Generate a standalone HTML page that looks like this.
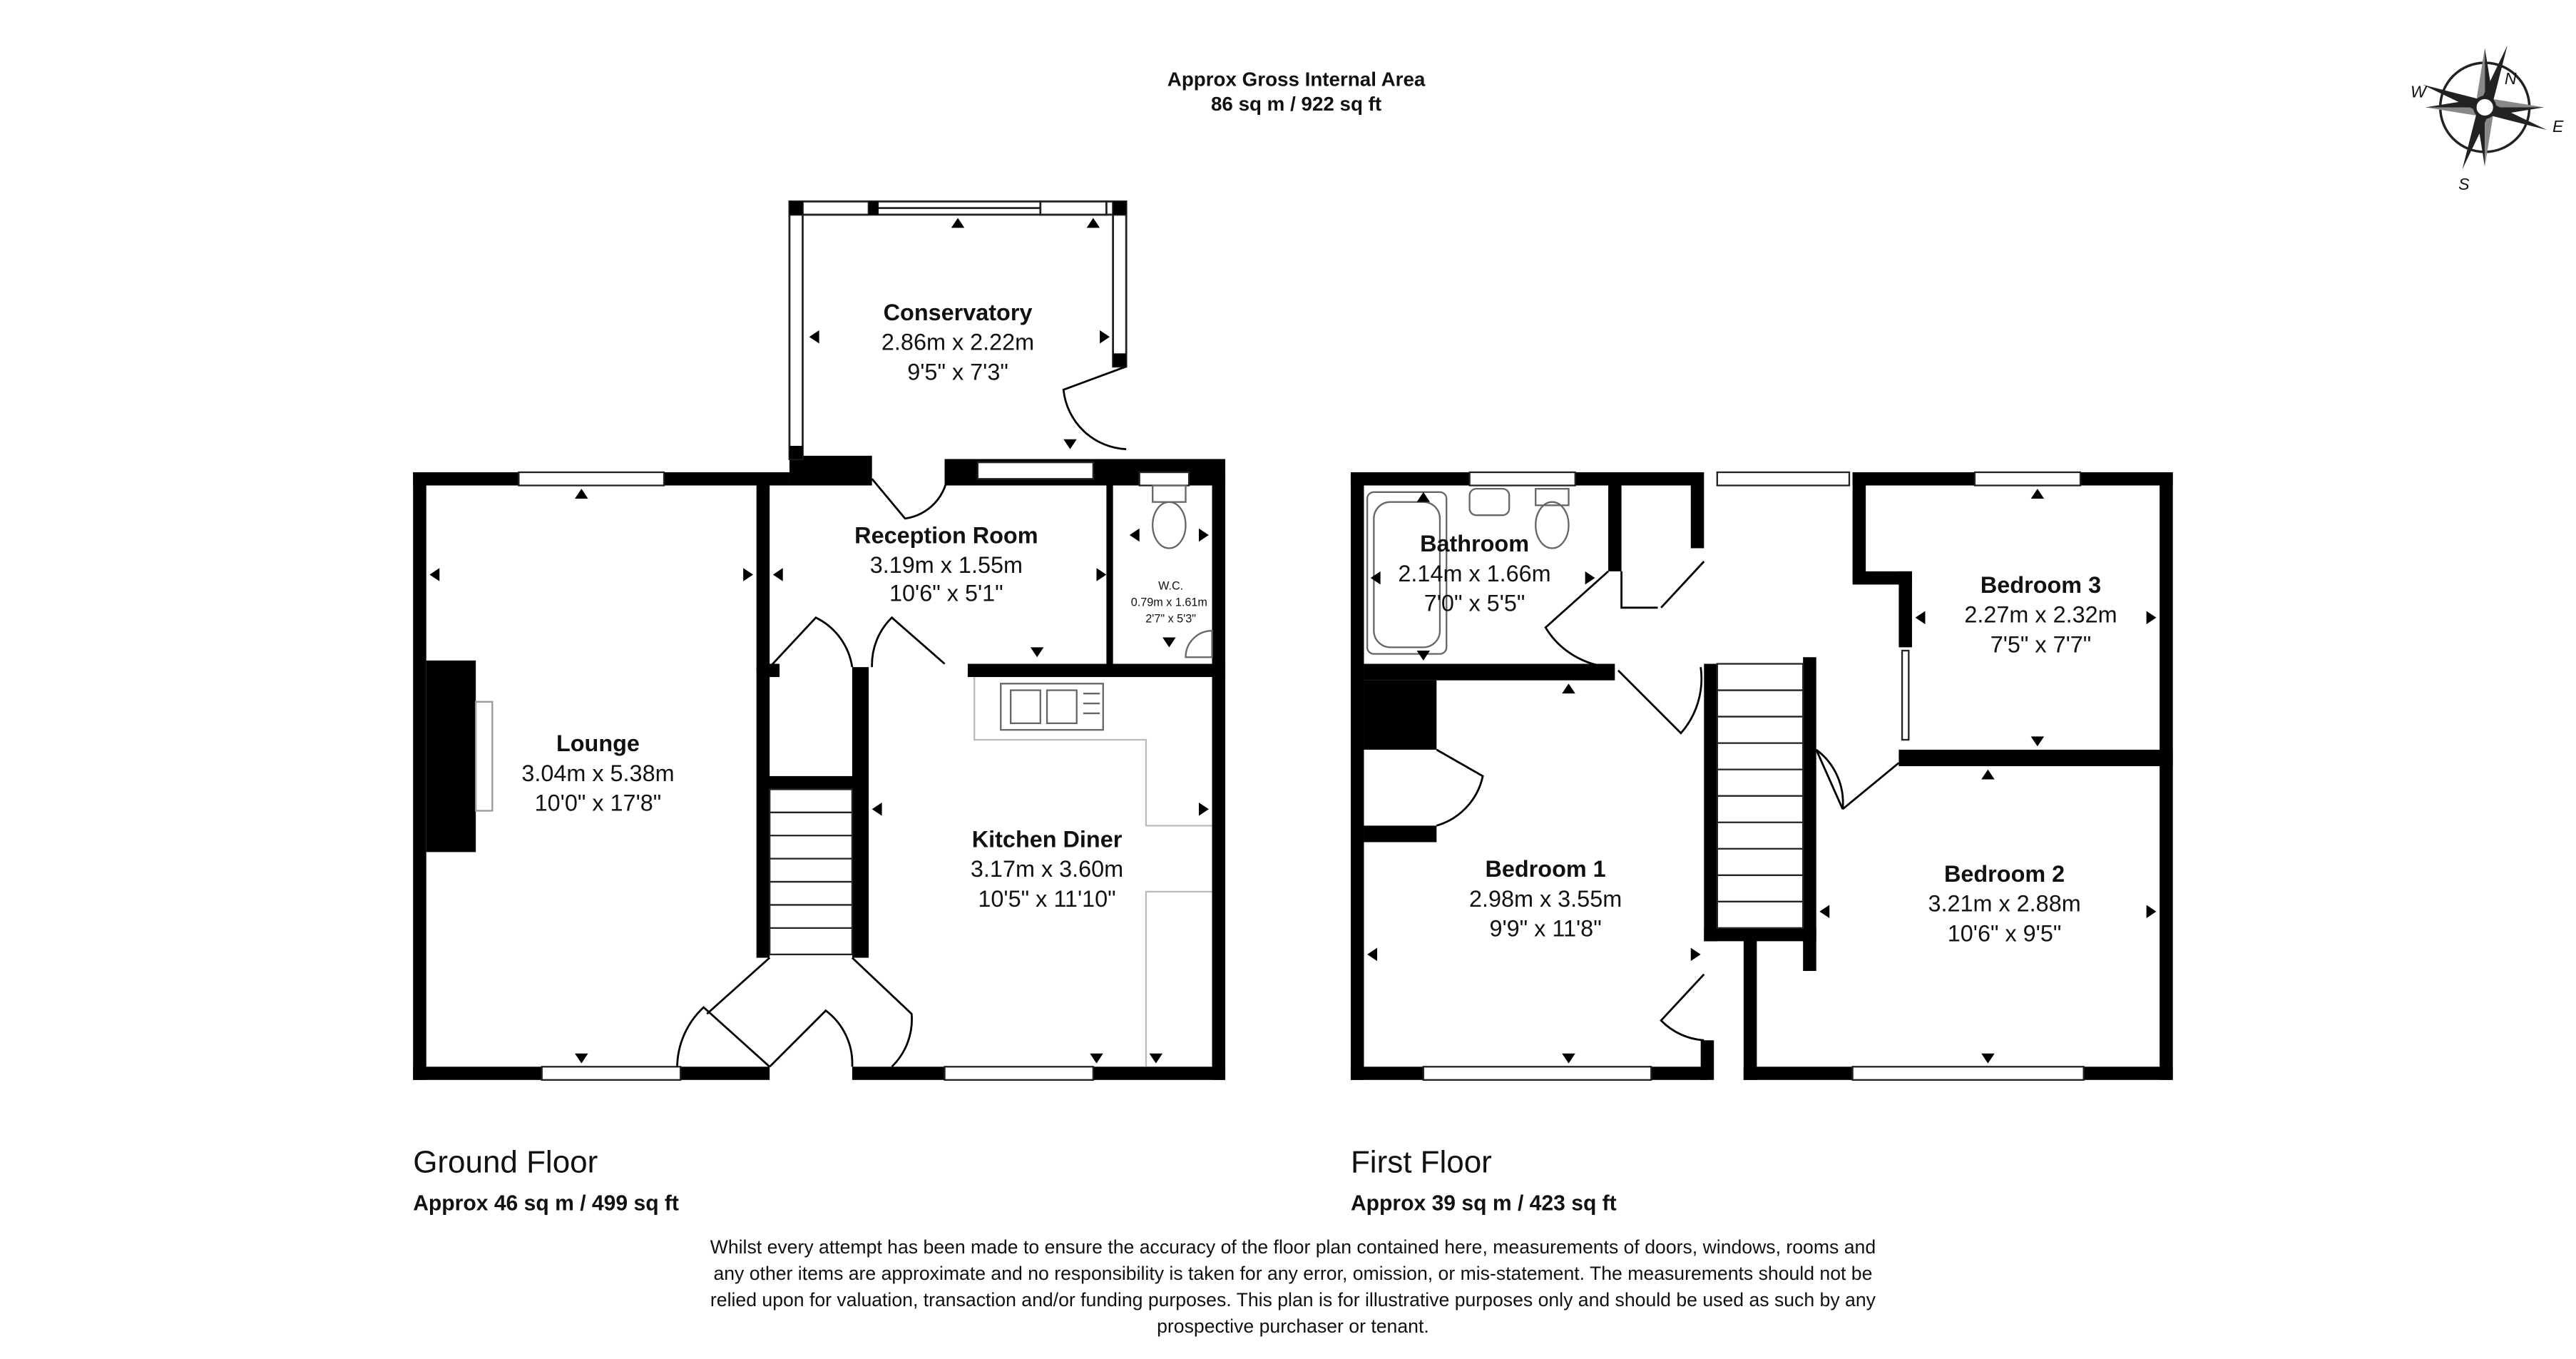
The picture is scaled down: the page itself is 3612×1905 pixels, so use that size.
<!DOCTYPE html>
<html><head><meta charset="utf-8"><style>
html,body{margin:0;padding:0;background:#fff}
svg{display:block}
text{font-family:"Liberation Sans",Arial,sans-serif;fill:#111}
.b{font-weight:bold}
</style></head><body>
<svg width="3612" height="1905" viewBox="0 0 1560 823" xmlns="http://www.w3.org/2000/svg">
<rect width="1560" height="823" fill="#fff"/>
<!-- header -->
<text x="785" y="52" font-size="12" class="b" text-anchor="middle">Approx Gross Internal Area</text>
<text x="785" y="67" font-size="12" class="b" text-anchor="middle">86 sq m / 922 sq ft</text>

<!-- compass -->
<g transform="translate(1505,65)">
<circle r="27" fill="none" stroke="#222" stroke-width="1.5"/>
<polygon points="0,-36 5,-5 0,0" fill="#222"/><polygon points="0,-36 -5,-5 0,0" fill="#888"/>
<polygon points="36,0 5,5 0,0" fill="#222"/><polygon points="36,0 5,-5 0,0" fill="#888"/>
<polygon points="0,36 -5,5 0,0" fill="#222"/><polygon points="0,36 5,5 0,0" fill="#888"/>
<polygon points="-36,0 -5,-5 0,0" fill="#222"/><polygon points="-36,0 -5,5 0,0" fill="#888"/>
<g transform="rotate(20)"><polygon points="0,-40 4,0 0,40 -4,0" fill="#222"/><polygon points="-40,0 0,4 40,0 0,-4" fill="#222"/></g>
<circle r="6" fill="#fff" stroke="#222" stroke-width="2"/>
<text x="12" y="-14" font-size="10" font-style="italic">N</text>
<text x="41" y="15" font-size="10" font-style="italic">E</text>
<text x="-16" y="50" font-size="10" font-style="italic">S</text>
<text x="-45" y="-6" font-size="10" font-style="italic">W</text>
</g>

<!-- ================= GROUND FLOOR ================= -->
<g fill="#000">
<!-- outer walls -->
<rect x="250" y="286" width="8" height="368"/>
<rect x="250" y="286" width="228" height="8"/>
<rect x="250" y="646" width="216" height="8"/>
<rect x="516" y="646" width="226" height="8"/>
<rect x="734" y="286" width="8" height="368"/>
<rect x="478" y="276" width="50" height="18"/>
<rect x="572" y="278" width="170" height="16"/>
<!-- lounge/reception wall -->
<rect x="458" y="286" width="8" height="120"/>
<rect x="458" y="404" width="8" height="176"/>
<!-- stairs walls -->
<rect x="462" y="470" width="58" height="8"/>
<rect x="516" y="404" width="10" height="176"/>
<!-- kitchen top wall -->
<rect x="586" y="402" width="156" height="8"/>
<rect x="462" y="402" width="10" height="8"/>
<!-- WC wall -->
<rect x="670" y="286" width="4" height="120"/>
<!-- fireplace -->
<rect x="258" y="400" width="30" height="116"/>
</g>
<rect x="288" y="425" width="10" height="66" fill="#fff" stroke="#999" stroke-width="1"/>
<!-- windows -->
<g fill="#fff" stroke="#222" stroke-width="1">
<rect x="314" y="286" width="88" height="8"/>
<rect x="328" y="646" width="84" height="8"/>
<rect x="572" y="646" width="90" height="8"/>
<rect x="592" y="280" width="70" height="10"/>
<rect x="690" y="286" width="30" height="8"/>
</g>
<!-- conservatory -->
<g fill="none" stroke="#222" stroke-width="1.2">
<rect x="478" y="122" width="8" height="156"/>
<rect x="478" y="122" width="204" height="8"/>
<rect x="674" y="122" width="8" height="100"/>
<line x1="530" y1="126" x2="630" y2="126"/>
<rect x="486" y="122" width="40" height="8" fill="#fff"/>
<rect x="630" y="122" width="40" height="8" fill="#fff"/>
</g>
<g fill="#000"><rect x="478" y="122" width="8" height="8"/><rect x="526" y="122" width="6" height="8"/><rect x="674" y="122" width="8" height="8"/><rect x="674" y="214" width="8" height="8"/><rect x="478" y="270" width="8" height="8"/></g>
<!-- doors (arcs) -->
<g fill="none" stroke="#000" stroke-width="1.2">
<path d="M682,222 L644,236 A40,40 0 0 0 682,272"/>
<path d="M528,290 L548,314 A30,30 0 0 0 574,286"/>
<path d="M466,404 L494,374 A40,40 0 0 1 516,404"/>
<path d="M572,402 L540,374 A40,40 0 0 0 528,404"/>
<path d="M466,646 L426,610 A50,50 0 0 0 410,646" />
<path d="M466,646 L500,612 A40,40 0 0 1 516,646"/>
<path d="M516,580 L552,614 A40,40 0 0 1 540,646"/>
<path d="M466,580 L428,614"/>
</g>
<!-- stairs -->
<g fill="none" stroke="#222" stroke-width="1">
<rect x="466" y="478" width="50" height="100"/>
<line x1="466" y1="492" x2="516" y2="492"/><line x1="466" y1="506" x2="516" y2="506"/>
<line x1="466" y1="520" x2="516" y2="520"/><line x1="466" y1="534" x2="516" y2="534"/>
<line x1="466" y1="548" x2="516" y2="548"/><line x1="466" y1="562" x2="516" y2="562"/>
</g>
<!-- kitchen fittings -->
<g fill="none" stroke="#bbb" stroke-width="1">
<path d="M590,410 V448 H694 V500 H734"/>
<path d="M734,540 H694 V646"/>
</g>
<g fill="none" stroke="#666" stroke-width="1">
<rect x="606" y="414" width="62" height="28"/>
<rect x="612" y="418" width="18" height="20"/><rect x="634" y="418" width="18" height="20"/>
<line x1="656" y1="420" x2="666" y2="420"/><line x1="656" y1="426" x2="666" y2="426"/><line x1="656" y1="432" x2="666" y2="432"/>
<ellipse cx="708" cy="318" rx="10" ry="14"/><rect x="698" y="294" width="20" height="10"/>
<path d="M734,398 L718,398 A16,16 0 0 1 734,382 Z"/>
</g>
<!-- arrows ground -->
<g fill="#000">
<polygon points="352,296 356,302 348,302"/>
<polygon points="352,644 356,638 348,638"/>
<polygon points="260,348 266,344 266,352"/>
<polygon points="456,348 450,344 450,352"/>
<polygon points="468,348 474,344 474,352"/>
<polygon points="670,348 664,344 664,352"/>
<polygon points="628,398 632,392 624,392"/>
<polygon points="648,272 652,266 644,266"/>
<polygon points="664,644 668,638 660,638"/><polygon points="700,644 704,638 696,638"/>
<polygon points="528,490 534,486 534,494"/>
<polygon points="732,490 726,486 726,494"/>
<polygon points="490,204 496,200 496,208"/>
<polygon points="672,204 666,200 666,208"/>
<polygon points="580,132 584,138 576,138"/>
<polygon points="662,132 666,138 658,138"/>
<polygon points="684,324 690,320 690,328"/><polygon points="732,324 726,320 726,328"/>
<polygon points="708,392 712,386 704,386"/>
</g>
<!-- labels ground -->
<text x="580" y="194" font-size="14" class="b" text-anchor="middle">Conservatory</text>
<text x="580" y="212" font-size="14" text-anchor="middle">2.86m x 2.22m</text>
<text x="580" y="230" font-size="14" text-anchor="middle">9'5" x 7'3"</text>
<text x="573" y="329" font-size="14" class="b" text-anchor="middle">Reception Room</text>
<text x="573" y="347" font-size="14" text-anchor="middle">3.19m x 1.55m</text>
<text x="573" y="364" font-size="14" text-anchor="middle">10'6" x 5'1"</text>
<text x="709" y="357" font-size="7" text-anchor="middle">W.C.</text>
<text x="708" y="367" font-size="7" text-anchor="middle">0.79m x 1.61m</text>
<text x="709" y="377" font-size="7" text-anchor="middle">2'7" x 5'3"</text>
<text x="362" y="455" font-size="14" class="b" text-anchor="middle">Lounge</text>
<text x="362" y="473" font-size="14" text-anchor="middle">3.04m x 5.38m</text>
<text x="362" y="491" font-size="14" text-anchor="middle">10'0" x 17'8"</text>
<text x="634" y="513" font-size="14" class="b" text-anchor="middle">Kitchen Diner</text>
<text x="634" y="531" font-size="14" text-anchor="middle">3.17m x 3.60m</text>
<text x="634" y="549" font-size="14" text-anchor="middle">10'5" x 11'10"</text>

<!-- ================= FIRST FLOOR ================= -->
<g fill="#000">
<rect x="818" y="286" width="8" height="368"/>
<rect x="818" y="286" width="156" height="8"/>
<rect x="974" y="286" width="8" height="60"/>
<rect x="974" y="286" width="56" height="8"/>
<rect x="1024" y="286" width="8" height="46"/>
<rect x="1122" y="286" width="194" height="8"/>
<rect x="1308" y="286" width="8" height="368"/>
<rect x="818" y="646" width="216" height="8"/>
<rect x="1056" y="646" width="260" height="8"/>
<rect x="1030" y="630" width="8" height="24"/>
<rect x="1122" y="286" width="8" height="66"/>
<rect x="1122" y="346" width="36" height="8"/>
<rect x="1150" y="346" width="8" height="46"/>
<rect x="826" y="402" width="152" height="10"/>
<rect x="826" y="412" width="44" height="42"/>
<rect x="826" y="500" width="44" height="10"/>
<rect x="1150" y="454" width="166" height="10"/>
<rect x="1032" y="402" width="8" height="168"/>
<rect x="1092" y="398" width="8" height="190"/>
<rect x="1032" y="562" width="68" height="8"/>
<rect x="1056" y="562" width="8" height="92"/>
</g>
<g fill="#fff" stroke="#222" stroke-width="1">
<rect x="890" y="286" width="64" height="8"/>
<rect x="1040" y="286" width="80" height="8"/>
<rect x="1196" y="286" width="64" height="8"/>
<rect x="862" y="646" width="138" height="8"/>
<rect x="1122" y="646" width="140" height="8"/>
<rect x="1152" y="394" width="4" height="54"/>
</g>
<!-- bathroom fittings -->
<g fill="none" stroke="#666" stroke-width="1">
<rect x="828" y="298" width="48" height="98" rx="4"/>
<rect x="832" y="304" width="40" height="88" rx="10"/>
<rect x="890" y="296" width="24" height="16" rx="4"/>
<ellipse cx="940" cy="318" rx="10" ry="14"/><rect x="930" y="296" width="20" height="10"/>
</g>
<!-- stairs first -->
<g fill="none" stroke="#222" stroke-width="1">
<rect x="1040" y="402" width="52" height="160"/>
<line x1="1040" y1="418" x2="1092" y2="418"/><line x1="1040" y1="434" x2="1092" y2="434"/>
<line x1="1040" y1="450" x2="1092" y2="450"/><line x1="1040" y1="466" x2="1092" y2="466"/>
<line x1="1040" y1="482" x2="1092" y2="482"/><line x1="1040" y1="498" x2="1092" y2="498"/>
<line x1="1040" y1="514" x2="1092" y2="514"/><line x1="1040" y1="530" x2="1092" y2="530"/>
<line x1="1040" y1="546" x2="1092" y2="546"/>
</g>
<!-- doors first -->
<g fill="none" stroke="#000" stroke-width="1.2">
<path d="M974,346 L936,380 A50,50 0 0 0 976,404"/>
<path d="M980,406 L1018,444 A50,50 0 0 0 1030,404"/>
<path d="M982,346 V368 L1004,368"/>
<path d="M1032,340 L1006,368"/>
<path d="M870,454 L898,470 A40,40 0 0 1 870,500"/>
<path d="M1032,590 L1006,618 A40,40 0 0 0 1032,630"/>
<path d="M1100,454 L1116,490"/>
<path d="M1150,462 L1116,490"/>
<path d="M1100,454 A40,40 0 0 1 1116,490"/>
</g>
<g fill="#000">
<polygon points="862,298 866,304 858,304"/>
<polygon points="862,400 866,394 858,394"/>
<polygon points="830,350 836,346 836,354"/>
<polygon points="966,350 960,346 960,354"/>
<polygon points="950,414 954,420 946,420"/>
<polygon points="1234,296 1238,302 1230,302"/>
<polygon points="1234,452 1238,446 1230,446"/>
<polygon points="1160,374 1166,370 1166,378"/>
<polygon points="1306,374 1300,370 1300,378"/>
<polygon points="1204,466 1208,472 1200,472"/>
<polygon points="1204,644 1208,638 1200,638"/>
<polygon points="1102,552 1108,548 1108,556"/>
<polygon points="1306,552 1300,548 1300,556"/>
<polygon points="828,578 834,574 834,582"/>
<polygon points="1030,578 1024,574 1024,582"/>
<polygon points="950,644 954,638 946,638"/>
</g>
<text x="893" y="334" font-size="14" class="b" text-anchor="middle">Bathroom</text>
<text x="893" y="352" font-size="14" text-anchor="middle">2.14m x 1.66m</text>
<text x="893" y="370" font-size="14" text-anchor="middle">7'0" x 5'5"</text>
<text x="1236" y="359" font-size="14" class="b" text-anchor="middle">Bedroom 3</text>
<text x="1236" y="377" font-size="14" text-anchor="middle">2.27m x 2.32m</text>
<text x="1236" y="395" font-size="14" text-anchor="middle">7'5" x 7'7"</text>
<text x="936" y="531" font-size="14" class="b" text-anchor="middle">Bedroom 1</text>
<text x="936" y="549" font-size="14" text-anchor="middle">2.98m x 3.55m</text>
<text x="936" y="567" font-size="14" text-anchor="middle">9'9" x 11'8"</text>
<text x="1214" y="534" font-size="14" class="b" text-anchor="middle">Bedroom 2</text>
<text x="1214" y="552" font-size="14" text-anchor="middle">3.21m x 2.88m</text>
<text x="1214" y="570" font-size="14" text-anchor="middle">10'6" x 9'5"</text>

<!-- footer -->
<text x="250" y="710" font-size="19">Ground Floor</text>
<text x="250" y="733" font-size="13" class="b">Approx 46 sq m / 499 sq ft</text>
<text x="818" y="710" font-size="19">First Floor</text>
<text x="818" y="733" font-size="13" class="b">Approx 39 sq m / 423 sq ft</text>
<g font-size="11.5" text-anchor="middle">
<text x="783" y="759">Whilst every attempt has been made to ensure the accuracy of the floor plan contained here, measurements of doors, windows, rooms and</text>
<text x="783" y="775">any other items are approximate and no responsibility is taken for any error, omission, or mis-statement. The measurements should not be</text>
<text x="783" y="791">relied upon for valuation, transaction and/or funding purposes. This plan is for illustrative purposes only and should be used as such by any</text>
<text x="783" y="807">prospective purchaser or tenant.</text>
</g>
</svg>
</body></html>
